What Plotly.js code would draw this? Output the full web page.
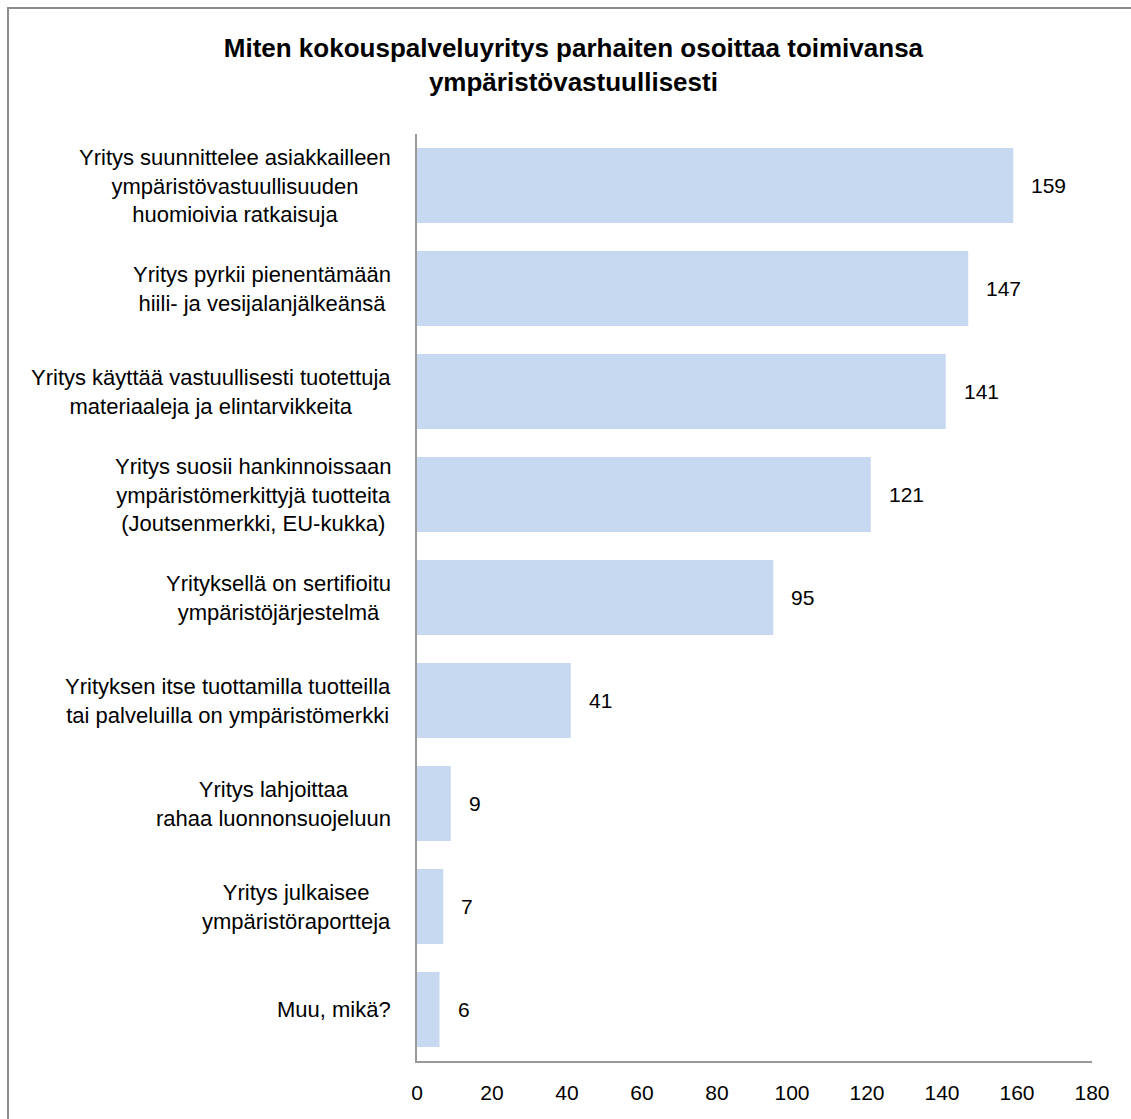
<!DOCTYPE html>
<html>
<head>
<meta charset="utf-8">
<script src="https://cdn.plot.ly/plotly-3.0.1.min.js"></script>
<style>
  html, body { margin: 0; padding: 0; background: #ffffff; overflow: hidden; }
  #frame { position: absolute; left: 7px; top: 7px; width: 1300px; height: 1300px; border: 2px solid #8c8c8c; box-sizing: border-box; }
  #chart { position: absolute; left: 0; top: 0; width: 1131px; height: 1119px; }
</style>
</head>
<body>
<div id="frame"></div>
<div id="chart"></div>
<script>
const categories = [
  "Yritys suunnittelee asiakkailleen<br>ympäristövastuullisuuden<br>huomioivia ratkaisuja",
  "Yritys pyrkii pienentämään<br>hiili- ja vesijalanjälkeänsä",
  "Yritys käyttää vastuullisesti tuotettuja<br>materiaaleja ja elintarvikkeita",
  "Yritys suosii hankinnoissaan<br>ympäristömerkittyjä tuotteita<br>(Joutsenmerkki, EU-kukka)",
  "Yrityksellä on sertifioitu<br>ympäristöjärjestelmä",
  "Yrityksen itse tuottamilla tuotteilla<br>tai palveluilla on ympäristömerkki",
  "Yritys lahjoittaa<br>rahaa luonnonsuojeluun",
  "Yritys julkaisee<br>ympäristöraportteja",
  "Muu, mikä?"
];
const values = [159, 147, 141, 121, 95, 41, 9, 7, 6];
const xTicks = [0, 20, 40, 60, 80, 100, 120, 140, 160, 180];
const titleText = "Miten kokouspalveluyritys parhaiten osoittaa toimivansa<br>ympäristövastuullisesti";

const FONT = '"Liberation Sans Narrow", "Arial Narrow", "Liberation Sans", Arial, sans-serif';
const ids = categories.map((c, i) => i);

const annotations = [];
categories.forEach((c, i) => {
  annotations.push({
    x: 0, y: i, xref: 'x', yref: 'y', text: c,
    xanchor: 'right', yanchor: 'middle', align: 'center',
    xshift: -24, showarrow: false,
    font: { family: FONT, size: 22, color: '#000000' }
  });
  annotations.push({
    x: values[i], y: i, xref: 'x', yref: 'y', text: String(values[i]),
    xanchor: 'left', yanchor: 'middle', xshift: 16, showarrow: false,
    font: { family: FONT, size: 21, color: '#000000' }
  });
});

const data = [{
  type: 'bar', orientation: 'h',
  x: values, y: ids,
  marker: { color: '#c6d9f1', line: { width: 0 } },
  hoverinfo: 'skip'
}];

const layout = {
  width: 1131, height: 1119,
  margin: { l: 417, r: 39, t: 134, b: 58 },
  paper_bgcolor: 'rgba(0,0,0,0)', plot_bgcolor: 'rgba(0,0,0,0)',
  showlegend: false,
  bargap: 0.27,
  title: {
    text: titleText, x: 0.507, xanchor: 'center', y: 0.9487, yanchor: 'middle',
    font: { family: FONT, size: 26, color: '#000000', weight: 'bold' }
  },
  xaxis: {
    range: [0, 180], tickvals: xTicks, ticktext: xTicks.map(String),
    showgrid: false, zeroline: false, showline: true, linecolor: '#999999', linewidth: 2,
    ticks: '', ticklabelstandoff: 12,
    tickfont: { family: FONT, size: 21, color: '#000000' }, fixedrange: true
  },
  yaxis: {
    range: [8.5, -0.5], showticklabels: false,
    showgrid: false, zeroline: false, showline: true, linecolor: '#999999', linewidth: 2,
    ticks: '', fixedrange: true
  },
  annotations: annotations
};

Plotly.newPlot('chart', data, layout, { displayModeBar: false, staticPlot: true });
</script>
</body>
</html>
